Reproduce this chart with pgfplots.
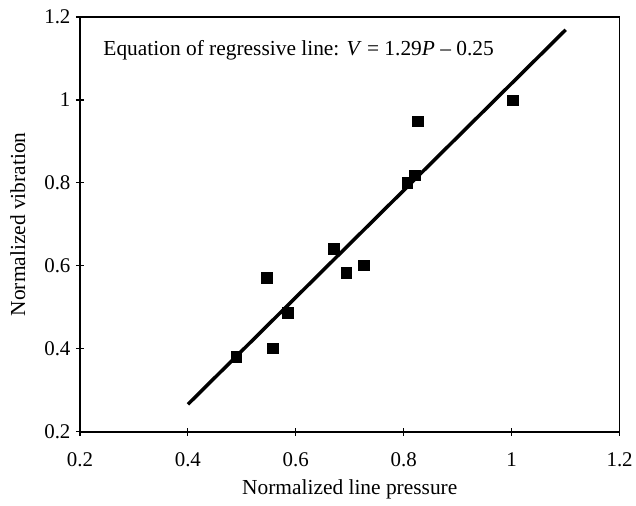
\documentclass[border=0pt]{standalone}
\usepackage{fontspec}
\setmainfont{Liberation Serif}
\usepackage{pgfplots}
\pgfplotsset{compat=1.18}
\begin{document}
\begin{tikzpicture}[x=1bp,y=1bp]
\begin{axis}[
    name=main,
    scale only axis,
    width=540bp, height=415bp,
    xmin=0.2, xmax=1.2, ymin=0.2, ymax=1.2,
    xtick={0.2,0.4,...,1.2}, ytick={0.2,0.4,...,1.2},
    xticklabels={0.2,0.4,0.6,0.8,1,1.2},
    yticklabels={0.2,0.4,0.6,0.8,1,1.2},
    tick align=center, major tick length=8bp,
    xtick pos=bottom, ytick pos=left,
    axis line style={line width=1.6bp},
    tick style={line width=1.2bp, black},
    ticklabel style={font=\fontsize{21}{25}\selectfont},
    xticklabel style={yshift=-13bp},
    yticklabel style={xshift=-2bp},
    /pgf/number format/assume math mode=true,
    label style={font=\fontsize{21.5}{26}\selectfont},
    xlabel={Normalized line pressure},
    ylabel={Normalized vibration},
    xlabel style={at={(axis description cs:0.5,-0.14)}, anchor=center},
    ylabel style={at={(axis description cs:-0.115,0.5)}, anchor=center},
    clip=false,
]
\addplot[only marks, mark=square*, mark size=5.2bp, black] coordinates {
    (0.489,0.381) (0.546,0.571) (0.557,0.402) (0.585,0.487)
    (0.670,0.641) (0.693,0.583) (0.726,0.602) (0.806,0.800)
    (0.820,0.819) (0.826,0.949) (1.002,1.000)
};
\addplot[black, line width=3.5bp, no marks] coordinates {(0.4,0.266) (1.1,1.169)};
\node[anchor=base west, font=\fontsize{21.5}{26}\selectfont] at (axis cs:0.237,1.106)
    {Equation of regressive line: \textit{V} = 1.29\textit{P} -- 0.25};
\end{axis}
\path (main.south west) ++(-80bp,-74bp) (main.north east) ++(16bp,17bp);
\end{tikzpicture}
\end{document}
